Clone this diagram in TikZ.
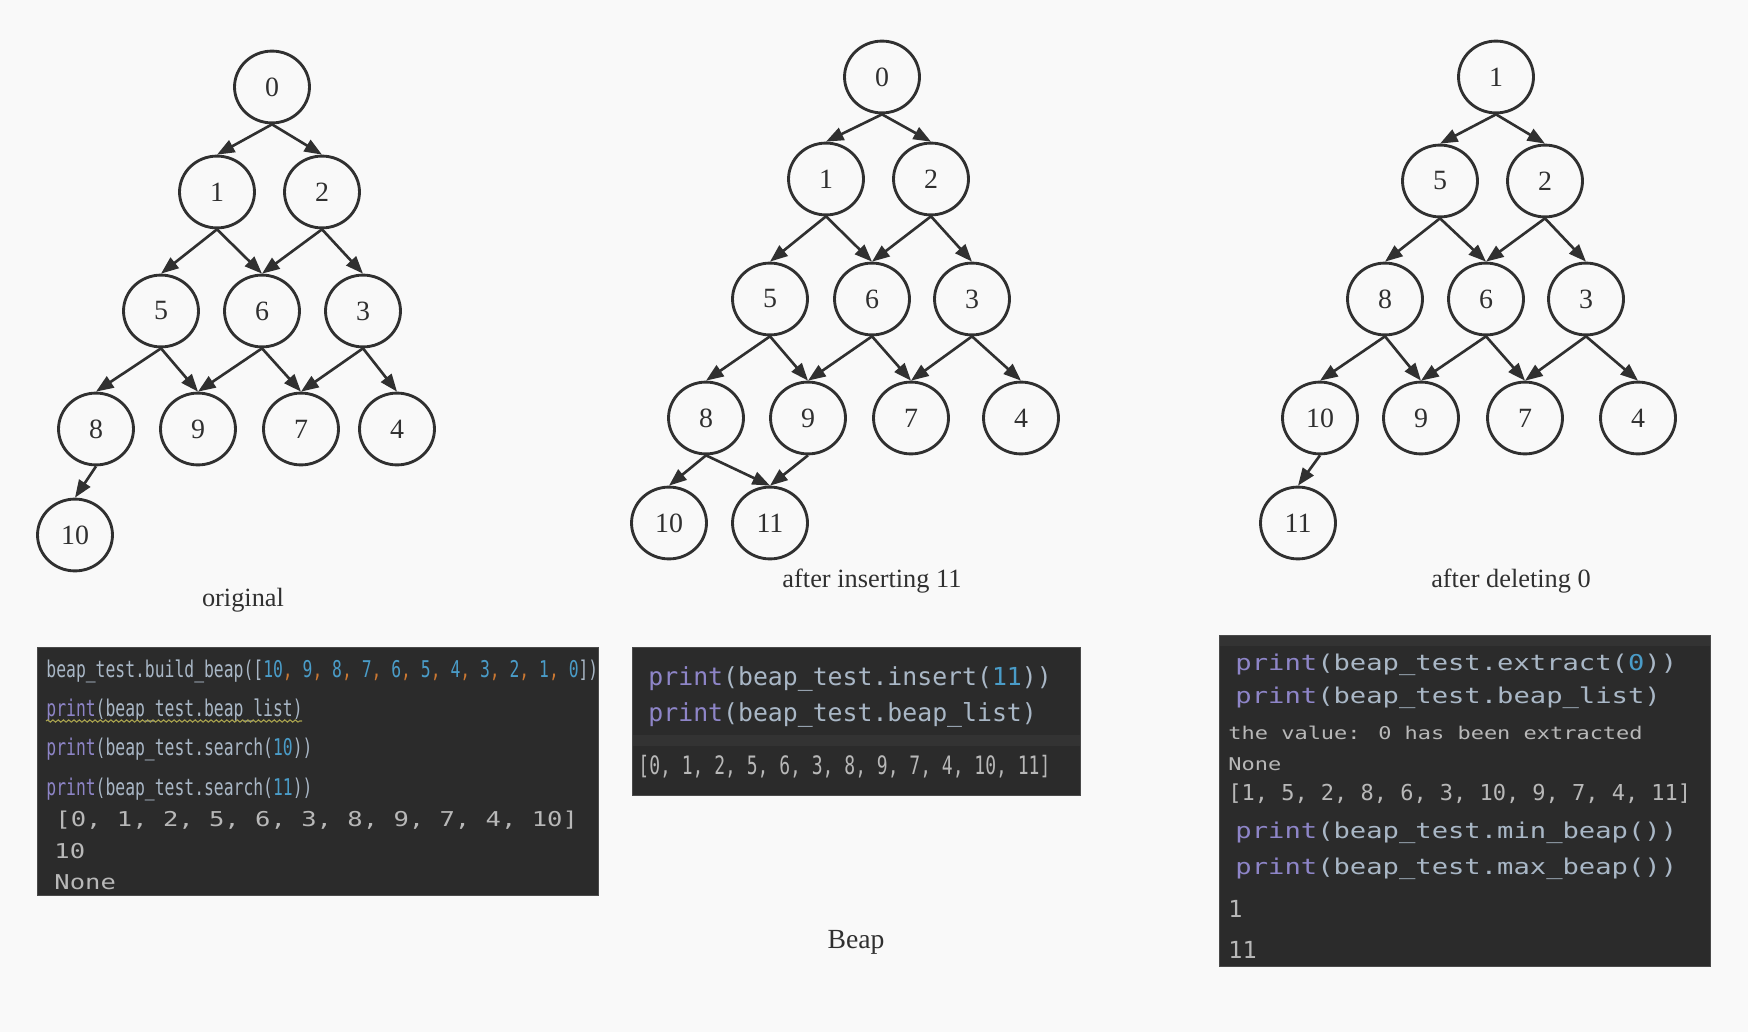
\documentclass[tikz,border=0pt]{standalone}
\usepackage{fontspec}
\setmainfont{Liberation Serif}
\newfontfamily\codeplain{DejaVu Sans Mono}
\newfontfamily\codecond[FakeStretch=0.71]{DejaVu Sans Mono}
\newfontfamily\codewide[FakeStretch=1.25]{DejaVu Sans Mono}
\usepackage{xcolor}
\usetikzlibrary{shapes.geometric,arrows.meta,decorations.pathmorphing}

\definecolor{pagebg}{HTML}{F9F9F9}
\definecolor{nodeline}{HTML}{303030}
\definecolor{captext}{HTML}{303030}
\definecolor{codebg}{HTML}{2B2B2B}
\definecolor{codeband}{HTML}{333333}
\definecolor{codeedge}{HTML}{4A4A4A}
\definecolor{codefg}{HTML}{A9B7C6}
\definecolor{codenum}{HTML}{4A9CC8}
\definecolor{codecomma}{HTML}{CC7832}
\definecolor{codeprint}{HTML}{8E85C8}
\definecolor{codeout}{HTML}{B8B8B8}
\definecolor{wavy}{HTML}{A8A24E}

\newcommand{\kwprint}{\textcolor{codeprint}{print}}
\newcommand{\cnum}[1]{\textcolor{codenum}{#1}}
\newcommand{\csep}{\textcolor{codecomma}{,}}

\tikzset{
    beapnode/.style={draw=nodeline, ellipse, line width=1.3pt, minimum width=1.2cm, minimum height=1.15cm, inner sep=0pt, text=nodeline, font=\fontsize{12.7}{15}\selectfont},
    beapedge/.style={-{Triangle[length=8pt,width=6pt]}, line width=1.2pt, draw=nodeline},
    treecaption/.style={text=captext, font=\fontsize{12}{14}\selectfont},
    codebox/.style={draw=codeedge, fill=codebg, line width=0.4pt, rectangle, inner sep=0pt},
    codeband/.style={fill=codeband, rectangle, inner sep=0pt},
    codeline/.style={anchor=base west, inner sep=0pt, text=codefg},
}

\begin{document}
\begin{tikzpicture}[x=0.016cm, y=-0.016cm]
    % Background
    \fill[pagebg] (0,0) rectangle (1748,1032);

    % Original beap
    \node[beapnode] (a0) at (272,87) {0};
    \node[beapnode] (a1) at (217,192) {1};
    \node[beapnode] (a2) at (322,192) {2};
    \node[beapnode] (a5) at (161,311) {5};
    \node[beapnode] (a6) at (262,311) {6};
    \node[beapnode] (a3) at (363,311) {3};
    \node[beapnode] (a8) at (96,429) {8};
    \node[beapnode] (a9) at (198,429) {9};
    \node[beapnode] (a7) at (301,429) {7};
    \node[beapnode] (a4) at (397,429) {4};
    \node[beapnode] (a10) at (75,535) {10};
    \node[treecaption] (origcap) at (243,600) {original};

    % After inserting 11
    \node[beapnode] (b0) at (882,77) {0};
    \node[beapnode] (b1) at (826,179) {1};
    \node[beapnode] (b2) at (931,179) {2};
    \node[beapnode] (b5) at (770,299) {5};
    \node[beapnode] (b6) at (872,299) {6};
    \node[beapnode] (b3) at (972,299) {3};
    \node[beapnode] (b8) at (706,418) {8};
    \node[beapnode] (b9) at (808,418) {9};
    \node[beapnode] (b7) at (911,418) {7};
    \node[beapnode] (b4) at (1021,418) {4};
    \node[beapnode] (b10) at (669,523) {10};
    \node[beapnode] (b11) at (770,523) {11};
    \node[treecaption] (inscap) at (872,581) {after inserting 11};

    % After deleting 0
    \node[beapnode] (c1) at (1496,77) {1};
    \node[beapnode] (c5) at (1440,181) {5};
    \node[beapnode] (c2) at (1545,181) {2};
    \node[beapnode] (c8) at (1385,299) {8};
    \node[beapnode] (c6) at (1486,299) {6};
    \node[beapnode] (c3) at (1586,299) {3};
    \node[beapnode] (c10) at (1320,418) {10};
    \node[beapnode] (c9) at (1421,418) {9};
    \node[beapnode] (c7) at (1525,418) {7};
    \node[beapnode] (c4) at (1638,418) {4};
    \node[beapnode] (c11) at (1298,523) {11};
    \node[treecaption] (delcap) at (1511,581) {after deleting 0};

    % Edges of the original beap
    \draw[beapedge] (a0.south) -- (a1.north);
    \draw[beapedge] (a0.south) -- (a2.north);
    \draw[beapedge] (a1.south) -- (a5.north);
    \draw[beapedge] (a1.south) -- (a6.north);
    \draw[beapedge] (a2.south) -- (a6.north);
    \draw[beapedge] (a2.south) -- (a3.north);
    \draw[beapedge] (a5.south) -- (a8.north);
    \draw[beapedge] (a5.south) -- (a9.north);
    \draw[beapedge] (a6.south) -- (a9.north);
    \draw[beapedge] (a6.south) -- (a7.north);
    \draw[beapedge] (a3.south) -- (a7.north);
    \draw[beapedge] (a3.south) -- (a4.north);
    \draw[beapedge] (a8.south) -- (a10.north);

    % Edges after inserting
    \draw[beapedge] (b0.south) -- (b1.north);
    \draw[beapedge] (b0.south) -- (b2.north);
    \draw[beapedge] (b1.south) -- (b5.north);
    \draw[beapedge] (b1.south) -- (b6.north);
    \draw[beapedge] (b2.south) -- (b6.north);
    \draw[beapedge] (b2.south) -- (b3.north);
    \draw[beapedge] (b5.south) -- (b8.north);
    \draw[beapedge] (b5.south) -- (b9.north);
    \draw[beapedge] (b6.south) -- (b9.north);
    \draw[beapedge] (b6.south) -- (b7.north);
    \draw[beapedge] (b3.south) -- (b7.north);
    \draw[beapedge] (b3.south) -- (b4.north);
    \draw[beapedge] (b8.south) -- (b10.north);
    \draw[beapedge] (b8.south) -- (b11.north);
    \draw[beapedge] (b9.south) -- (b11.north);

    % Edges after deleting
    \draw[beapedge] (c1.south) -- (c5.north);
    \draw[beapedge] (c1.south) -- (c2.north);
    \draw[beapedge] (c5.south) -- (c8.north);
    \draw[beapedge] (c5.south) -- (c6.north);
    \draw[beapedge] (c2.south) -- (c6.north);
    \draw[beapedge] (c2.south) -- (c3.north);
    \draw[beapedge] (c8.south) -- (c10.north);
    \draw[beapedge] (c8.south) -- (c9.north);
    \draw[beapedge] (c6.south) -- (c9.north);
    \draw[beapedge] (c6.south) -- (c7.north);
    \draw[beapedge] (c3.south) -- (c7.north);
    \draw[beapedge] (c3.south) -- (c4.north);
    \draw[beapedge] (c10.south) -- (c11.north);

    % Code of the original beap
    \node[codebox, minimum width=8.99cm, minimum height=3.97cm] (obox) at (318,771) {};
    \node[codeline, font=\codecond\fontsize{10.5}{12}\selectfont] (ocode1) at (46,677) {beap\_test.build\_beap([\cnum{10}\csep\ \cnum{9}\csep\ \cnum{8}\csep\ \cnum{7}\csep\ \cnum{6}\csep\ \cnum{5}\csep\ \cnum{4}\csep\ \cnum{3}\csep\ \cnum{2}\csep\ \cnum{1}\csep\ \cnum{0}])};
    \node[codeline, font=\codecond\fontsize{10.5}{12}\selectfont] (ocode2) at (46,716) {\kwprint(beap\_test.beap\_list)};
    \node[codeline, font=\codecond\fontsize{10.5}{12}\selectfont] (ocode3) at (46,755) {\kwprint(beap\_test.search(\cnum{10}))};
    \node[codeline, font=\codecond\fontsize{10.5}{12}\selectfont] (ocode4) at (46,795) {\kwprint(beap\_test.search(\cnum{11}))};
    \node[codeline, text=codeout, font=\codewide\fontsize{9.3}{11}\selectfont] (ocode5) at (55,826) {[0, 1, 2, 5, 6, 3, 8, 9, 7, 4, 10]};
    \node[codeline, text=codeout, font=\codewide\fontsize{9.3}{11}\selectfont] (ocode6) at (54,858) {10};
    \node[codeline, text=codeout, font=\codewide\fontsize{9.3}{11}\selectfont] (ocode7) at (54,889) {None};
    \coordinate (wavyA) at (46,721);
    \coordinate (wavyB) at (302,721);
    \draw[wavy, line width=0.5pt, decorate, decoration={snake, amplitude=0.5pt, segment length=2.4pt}] (wavyA) -- (wavyB);

    % Code of the insertion
    \node[codebox, minimum width=7.18cm, minimum height=2.38cm] (ibox) at (856.5,721.5) {};
    \node[codeband, minimum width=7.15cm, minimum height=0.18cm] (iband) at (856.5,740.5) {};
    \node[codeline, font=\codeplain\fontsize{11.3}{13}\selectfont] (icode1) at (648,685) {\kwprint(beap\_test.insert(\cnum{11}))};
    \node[codeline, font=\codeplain\fontsize{11.3}{13}\selectfont] (icode2) at (648,721) {\kwprint(beap\_test.beap\_list)};
    \node[codeline, text=codeout, font=\codecond\fontsize{11.55}{13}\selectfont] (icode3) at (638,774) {[0, 1, 2, 5, 6, 3, 8, 9, 7, 4, 10, 11]};

    % Code of the deletion
    \node[codebox, minimum width=7.87cm, minimum height=5.31cm] (dbox) at (1465,801) {};
    \node[codeband, minimum width=7.85cm, minimum height=0.16cm] (dband) at (1465,641) {};
    \node[codeline, font=\codewide\fontsize{9.9}{12}\selectfont] (dcode1) at (1235,670) {\kwprint(beap\_test.extract(\cnum{0}))};
    \node[codeline, font=\codewide\fontsize{9.9}{12}\selectfont] (dcode2) at (1235,703.5) {\kwprint(beap\_test.beap\_list)};
    \node[codeline, text=codeout, font=\codewide\fontsize{8}{10}\selectfont] (dcode3) at (1228,739) {the value: 0 has been extracted};
    \node[codeline, text=codeout, font=\codewide\fontsize{8}{10}\selectfont] (dcode4) at (1228,770.5) {None};
    \node[codeline, text=codeout, font=\codeplain\fontsize{10}{12}\selectfont] (dcode5) at (1228,800.5) {[1, 5, 2, 8, 6, 3, 10, 9, 7, 4, 11]};
    \node[codeline, font=\codewide\fontsize{9.9}{12}\selectfont] (dcode6) at (1235,838.5) {\kwprint(beap\_test.min\_beap())};
    \node[codeline, font=\codewide\fontsize{9.9}{12}\selectfont] (dcode7) at (1235,874.5) {\kwprint(beap\_test.max\_beap())};
    \node[codeline, text=codeout, font=\codeplain\fontsize{10.7}{13}\selectfont] (dcode8) at (1228,917.5) {1};
    \node[codeline, text=codeout, font=\codeplain\fontsize{10.7}{13}\selectfont] (dcode9) at (1228,958.5) {11};

    % Title
    \node[treecaption, font=\fontsize{12.6}{15}\selectfont] (title) at (856,942) {Beap};

\end{tikzpicture}
\end{document}
